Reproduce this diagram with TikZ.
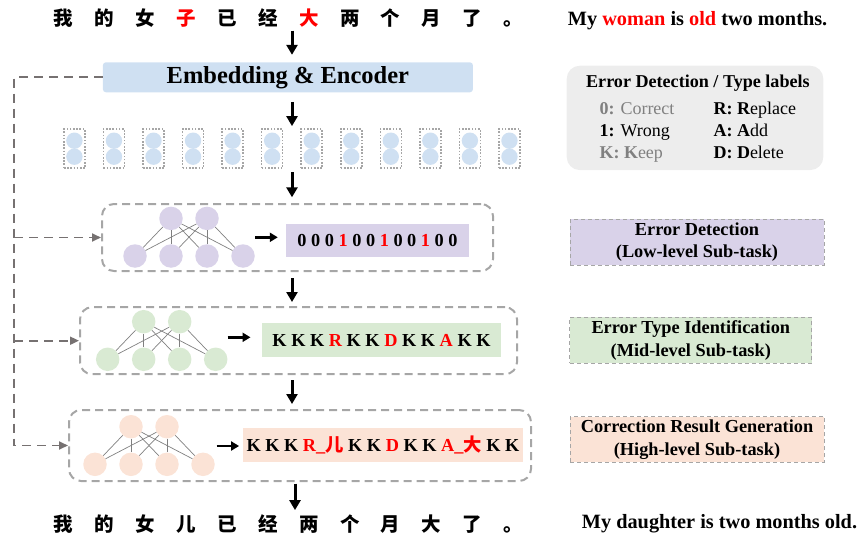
\documentclass[tikz,border=0pt]{standalone}
\usepackage{fontspec}
\setmainfont{Liberation Serif}
\newfontfamily\cjk{Noto Sans CJK SC}
\usepackage{xcolor}
\usetikzlibrary{arrows.meta}

\definecolor{embblue}{HTML}{CFE0F2}
\definecolor{edpurple}{HTML}{D9D2E9}
\definecolor{etgreen}{HTML}{D9EAD3}
\definecolor{crpeach}{HTML}{FBE3D6}
\definecolor{boxgray}{HTML}{A6A6A6}
\definecolor{fbgray}{HTML}{767171}
\definecolor{legendgray}{HTML}{EDEDED}
\definecolor{txtgray}{HTML}{808080}

\tikzset{
  zh/.style={inner sep=0, text height=15pt, text depth=3pt, font=\fontsize{19.5}{19.5}\selectfont\cjk\bfseries},
  en/.style={inner sep=0, font=\fontsize{20.3}{24}\selectfont\bfseries},
  embbox/.style={fill=embblue, rounded corners=3pt, inner sep=0, minimum width=370pt, minimum height=30pt, font=\fontsize{24.5}{28}\selectfont\bfseries},
  tokbox/.style={draw=boxgray, line width=1.6pt, dash pattern=on 1.6pt off 1.6pt, minimum width=21pt, minimum height=39pt, inner sep=0},
  taskbox/.style={draw=boxgray, line width=2pt, dash pattern=on 8pt off 5pt, rounded corners=12pt, inner sep=0},
  neuron/.style={circle, minimum size=23.5pt, inner sep=0},
  synapse/.style={draw=gray, line width=0.7pt},
  labbox/.style={inner sep=0, font=\fontsize{18.3}{22}\selectfont\bfseries},
  bigarr/.style={line width=3pt, ->},
  smallarr/.style={line width=2.5pt, -{Triangle[length=8pt,width=9pt]}},
  fbline/.style={draw=fbgray, line width=1.8pt, dash pattern=on 9pt off 6pt, -{Triangle[length=9pt,width=8pt]}},
  legrow/.style={inner sep=0, anchor=base west, font=\fontsize{18}{22}\selectfont},
  subtask/.style={draw=boxgray, line width=1pt, dash pattern=on 4pt off 3pt, align=center, inner sep=0, font=\fontsize{18.3}{22.5}\selectfont\bfseries}
}

\begin{document}
\begin{tikzpicture}[x=1pt, y=-1pt, >={Triangle[length=10pt,width=11pt]}]
      \useasboundingbox (0,0) rectangle (859,535);

      % source sentence
      \foreach \c [count=\i] in {我,的,女,\textcolor{red}{子},已,经,\textcolor{red}{大},两,个,月,了,。}
        \node[zh](s\i) at ({63.5+40.9*(\i-1)}, 19.6){\c};
      \node[en, anchor=west](srcen) at (567.7, 20.7){My \textcolor{red}{woman} is \textcolor{red}{old} two months.};

      % encoder and token vectors
      \node[embbox](emb) at (287.9, 77.3){Embedding \& Encoder};
      \foreach \i in {1,...,12}{
        \node[tokbox](t\i) at ({74.4+39.55*(\i-1)}, 148.7){};
        \fill[embblue] (t\i.center) ++(0,-8) circle (8.2pt);
        \fill[embblue] (t\i.center) ++(0,8) circle (8.2pt);
      }

      % sub-task boxes
      \node[taskbox, minimum width=391pt, minimum height=67pt](box1) at (297.5, 237.5){};
      \node[taskbox, minimum width=437pt, minimum height=67pt](box2) at (298.5, 340.7){};
      \node[taskbox, minimum width=462pt, minimum height=71pt](box3) at (300, 445.5){};

      % small networks
      \foreach \k/\bx/\by/\col in {1/135/256/edpurple, 2/107.7/359.3/etgreen, 3/95/464.3/crpeach}{
        \foreach \j in {1,...,4}
          \node[neuron, fill=\col](n\k-b\j) at ({\bx+36*(\j-1)}, \by){};
        \foreach \j in {1,2}
          \node[neuron, fill=\col](n\k-t\j) at ({\bx+36*\j}, {\by-37.6}){};
        \foreach \j in {1,2}
          \foreach \m in {1,...,4}
            \draw[synapse] (n\k-t\j) -- (n\k-b\m);
      }

      % label sequences
      \node[labbox, fill=edpurple, minimum width=183pt, minimum height=32.7pt](lab1) at (377.5, 240.3){0 0 0 \textcolor{red}{1} 0 0 \textcolor{red}{1} 0 0 \textcolor{red}{1} 0 0};
      \node[labbox, fill=etgreen, minimum width=238.4pt, minimum height=33.4pt](lab2) at (381.5, 340){K K K \textcolor{red}{R} K K \textcolor{red}{D} K K \textcolor{red}{A} K K};
      \node[labbox, fill=crpeach, minimum width=279.4pt, minimum height=33.4pt](lab3) at (383, 445){K K K \textcolor{red}{R\_{\cjk 儿}} K K \textcolor{red}{D} K K \textcolor{red}{A\_{\cjk 大}} K K};

      \coordinate (a1) at (255, 237.3);
      \coordinate (a2) at (227.7, 337.3);
      \coordinate (a3) at (216.7, 446);
      \draw[smallarr, shorten >=8pt] (a1) -- (a1 -| lab1.west);
      \draw[smallarr, shorten >=11.6pt] (a2) -- (a2 -| lab2.west);
      \draw[smallarr, shorten >=4pt] (a3) -- (a3 -| lab3.west);

      % target sentence
      \foreach \c [count=\i] in {我,的,女,儿,已,经,两,个,月,大,了,。}
        \node[zh](g\i) at ({63.5+40.9*(\i-1)}, 525.3){\c};
      \node[en, anchor=west](tgten) at (581.7, 523.3){My daughter is two months old.};

      % main flow
      \coordinate (axis) at (292, 0);
      \draw[bigarr, shorten <=1.8pt, shorten >=7.3pt] (axis |- s1.south) -- (axis |- emb.north);
      \draw[bigarr, shorten <=9.4pt, shorten >=2.3pt] (axis |- emb.south) -- (axis |- t1.north);
      \draw[bigarr, shorten <=3.4pt, shorten >=5.7pt] (axis |- t1.south) -- (axis |- box1.north);
      \draw[bigarr, shorten <=6pt, shorten >=4.2pt] (axis |- box1.south) -- (axis |- box2.north);
      \draw[bigarr, shorten <=5pt, shorten >=5pt] (axis |- box2.south) -- (axis |- box3.north);
      \draw[bigarr, shorten <=1.5pt, shorten >=6pt] ([xshift=3pt]axis |- box3.south) -- ([xshift=3pt]axis |- g1.north);

      % encoder output to every sub-task
      \coordinate (fb) at (14, 77.3);
      \draw[fbline] (emb.west) -- (fb) -- (fb |- box3.west) -- (box3.west);
      \draw[fbline] (fb |- box1.west) -- (box1.west);
      \draw[fbline] (fb |- box2.west) -- (box2.west);

      % legend
      \node[fill=legendgray, rounded corners=13pt, minimum width=256.6pt, minimum height=104.3pt, inner sep=0](leg) at (695, 117.9){};
      \node[labbox, font=\fontsize{18.1}{22}\selectfont\bfseries](legt) at (697.9, 82.7){Error Detection / Type labels};
      \node[legrow, text=txtgray](l0) at (599.3, 114.3){\textbf{0:} Correct};
      \node[legrow](l1) at (599.3, 136){\textbf{1:} Wrong};
      \node[legrow, text=txtgray](lk) at (599.3, 158.7){\textbf{K:} \textbf{K}eep};
      \node[legrow](lr) at (713.3, 114.3){\textbf{R:} \textbf{R}eplace};
      \node[legrow](la) at (713.3, 136){\textbf{A:} \textbf{A}dd};
      \node[legrow](ld) at (713.3, 158.7){\textbf{D:} \textbf{D}elete};

      % sub-task names
      \node[subtask, fill=edpurple, minimum width=254pt, minimum height=45.7pt](ed) at (697, 242.2){Error Detection\\(Low-level Sub-task)};
      \node[subtask, fill=etgreen, minimum width=241.7pt, minimum height=46pt](eti) at (690.8, 340.3){Error Type Identification\\(Mid-level Sub-task)};
      \node[subtask, fill=crpeach, minimum width=254pt, minimum height=45.6pt](crg) at (697, 439.5){Correction Result Generation\\(High-level Sub-task)};
    \end{tikzpicture}
\end{document}
